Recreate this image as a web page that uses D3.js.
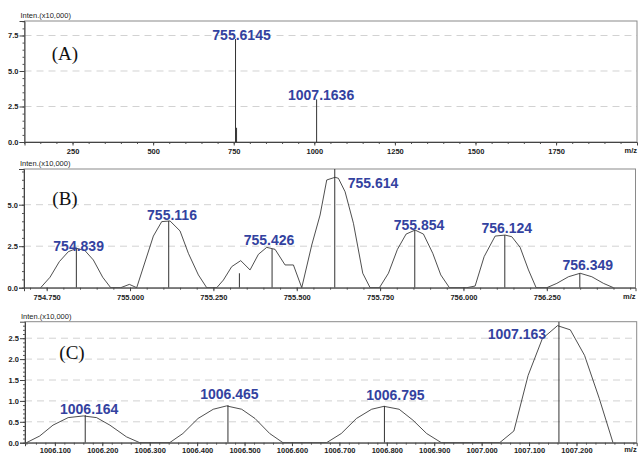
<!DOCTYPE html>
<html>
<head>
<meta charset="utf-8">
<script src="https://d3js.org/d3.v7.min.js"></script>
<style>
body {margin:0; background:#fff;}
svg text {font-family: "Liberation Sans", Arial, sans-serif;}
.tick text {font-size:7.5px; font-weight:bold; fill:#222;}
.lbl {font-size:14px; font-weight:bold; fill:#3342a0;}
.small {font-size:7.5px; fill:#222;}
.letter {font-family:"Liberation Serif", "Times New Roman", serif !important; font-size:19px; fill:#111;}
</style>
</head>
<body>
<svg width="639" height="455"></svg>
<script>
// ---- data ----
// panel A: full spectrum, sticks only
var aTicksX = [250, 500, 750, 1000, 1250, 1500, 1750];
var aTicksY = [0, 2.5, 5.0, 7.5];
var aSticks = [[755.6145, 7.25], [758.8, 1.0], [1007.1636, 3.0]];
var aLabels = ["755.6145", "", "1007.1636"];

// panel B: 755 cluster, profile + centroids
var bTicksX = [754.75, 755.0, 755.25, 755.5, 755.75, 756.0, 756.25];
var bTicksY = [0, 2.5, 5.0];
var bProfile = [
  [754.732,0],[754.760,0.63],[754.788,1.57],[754.815,2.17],[754.840,2.37],[754.865,2.23],[754.890,1.67],[754.918,0.63],[754.942,0],
  [754.972,0],[754.998,0.2],[755.020,0],
  [755.070,3.11],[755.095,3.98],[755.120,4.02],[755.150,3.42],[755.175,2.07],[755.205,0.77],[755.230,0],
  [755.260,0],[755.280,0.46],[755.305,1.27],[755.332,1.63],[755.360,1.07],[755.385,2.01],[755.410,2.43],[755.435,2.31],[755.465,1.37],[755.490,1.37],[755.515,0],
  [755.545,2.57],[755.570,4.38],[755.590,6.49],[755.615,6.65],[755.625,6.59],[755.645,5.78],[755.670,3.88],[755.698,0.87],[755.720,0],
  [755.748,0],[755.775,0.87],[755.802,2.31],[755.828,3.23],[755.855,3.47],[755.880,3.23],[755.908,2.07],[755.932,0.77],[755.958,0],
  [756.010,0],[756.035,0.1],[756.062,1.87],[756.095,3.11],[756.125,3.17],[756.145,3.07],[756.170,2.43],[756.195,1.07],[756.218,0],
  [756.250,0],[756.280,0.26],[756.315,0.66],[756.350,0.87],[756.385,0.66],[756.420,0.26],[756.450,0]
];
var bSticks = [[754.839,2.37],[755.116,4.02],[755.328,0.87],[755.426,2.33],[755.614,7.2],[755.854,3.47],[756.124,3.17],[756.349,0.87]];
var bLabels = ["754.839","755.116","","755.426","755.614","755.854","756.124","756.349"];

// panel C: 1006-1007 cluster
var cTicksX = [1006.1, 1006.2, 1006.3, 1006.4, 1006.5, 1006.6, 1006.7, 1006.8, 1006.9, 1007.0, 1007.1, 1007.2];
var cTicksY = [0, 0.5, 1.0, 1.5, 2.0, 2.5];
var cProfile = [
  [1006.040,0],[1006.068,0.16],[1006.096,0.42],[1006.128,0.60],[1006.160,0.64],[1006.188,0.60],[1006.216,0.42],[1006.251,0.14],[1006.279,0],
  [1006.342,0],[1006.370,0.22],[1006.402,0.58],[1006.434,0.80],[1006.462,0.88],[1006.494,0.80],[1006.522,0.58],[1006.553,0.22],[1006.581,0],
  [1006.673,0],[1006.704,0.22],[1006.736,0.58],[1006.768,0.80],[1006.794,0.87],[1006.826,0.80],[1006.855,0.54],[1006.884,0.22],[1006.915,0],
  [1007.038,0],[1007.068,0.28],[1007.098,1.61],[1007.128,2.49],[1007.160,2.80],[1007.187,2.70],[1007.217,2.09],[1007.248,1.06],[1007.277,0]
];
var cSticks = [[1006.164,0.66],[1006.465,0.90],[1006.795,0.88],[1007.163,2.9]];
var cLabels = ["1006.164","1006.465","1006.795","1007.163"];

// ---- drawing ----
var svg = d3.select("svg");

function panel(p) {
  var x = d3.scaleLinear().domain(p.xdom).range([p.left, p.right]);
  var y = d3.scaleLinear().domain([0, p.ymax]).range([p.bottom, p.top]);
  var g = svg.append("g");

  // grid
  g.selectAll(".grid").data(p.yticks.filter(function(v){ return v > 0; })).enter()
    .append("line")
    .attr("x1", p.left).attr("x2", p.right)
    .attr("y1", function(d){ return y(d); }).attr("y2", function(d){ return y(d); })
    .attr("stroke", "#d2d2d2").attr("stroke-dasharray", "7,5").attr("stroke-width", 1);

  // frame
  g.append("rect").attr("x", p.left).attr("y", p.top)
    .attr("width", p.right - p.left).attr("height", p.bottom - p.top)
    .attr("fill", "none").attr("stroke", "#8a8a8a");

  var clipId = "clip" + p.name;
  svg.append("clipPath").attr("id", clipId).append("rect")
    .attr("x", p.left).attr("y", p.top).attr("width", p.right - p.left).attr("height", p.bottom - p.top);
  var plot = g.append("g").attr("clip-path", "url(#" + clipId + ")");

  if (p.profile) {
    plot.append("path").datum(p.profile)
      .attr("d", d3.line().x(function(d){ return x(d[0]); }).y(function(d){ return y(d[1]); }))
      .attr("fill", "none").attr("stroke", "#222").attr("stroke-width", 0.8);
  }
  plot.selectAll(".stick").data(p.sticks).enter().append("line")
    .attr("x1", function(d){ return x(d[0]); }).attr("x2", function(d){ return x(d[0]); })
    .attr("y1", y(0)).attr("y2", function(d){ return y(d[1]); })
    .attr("stroke", "#333").attr("stroke-width", 1);

  // axes
  var minorX = d3.range(p.xdom[0], p.xdom[1], p.xminor).map(function(v){ return Math.round(v / p.xminor) * p.xminor; });
  g.append("g").attr("transform", "translate(0," + p.bottom + ")")
    .call(d3.axisBottom(x).tickValues(minorX).tickSize(2).tickFormat(""))
    .call(function(s){ s.select(".domain").remove(); s.selectAll("line").attr("stroke", "#555"); });
  g.append("g").attr("transform", "translate(0," + p.bottom + ")")
    .call(d3.axisBottom(x).tickValues(p.xticks).tickSize(3.5).tickPadding(p.xpad).tickFormat(d3.format(p.xfmt)))
    .call(function(s){ s.select(".domain").attr("stroke", "#444"); s.selectAll("line").attr("stroke", "#444"); });

  var minorY = d3.range(0, p.ymax, p.yminor);
  g.append("g").attr("transform", "translate(" + p.left + ",0)")
    .call(d3.axisLeft(y).tickValues(minorY).tickSize(2).tickFormat(""))
    .call(function(s){ s.select(".domain").remove(); s.selectAll("line").attr("stroke", "#555"); });
  g.append("g").attr("transform", "translate(" + p.left + ",0)")
    .call(d3.axisLeft(y).tickValues(p.yticks).tickSize(5).tickPadding(1).tickFormat(d3.format(".1f")))
    .call(function(s){ s.select(".domain").attr("stroke", "#444"); s.selectAll("line").attr("stroke", "#444"); });

  svg.append("text").attr("class", "small").attr("x", p.left - 4).attr("y", p.top - 3).text("Inten.(x10,000)");
  svg.append("text").attr("class", "small").attr("font-weight", "bold").attr("text-anchor", "end")
    .attr("x", p.right).attr("y", p.bottom + p.mzdy).text("m/z");
  svg.append("text").attr("class", "letter").attr("text-anchor", "middle")
    .attr("x", p.letter[0]).attr("y", p.letter[1]).text(p.letterText);

  // peak labels
  p.sticks.forEach(function(d, i) {
    var t = p.labels[i];
    if (!t) return;
    var off = p.offsets[i];
    var sx = x(d[0]);
    var sy = Math.max(y(d[1]), p.top);
    svg.append("text").attr("class", "lbl")
      .attr("text-anchor", off[2] || "middle")
      .attr("x", sx + off[0]).attr("y", (off[3] ? off[1] : sy + off[1]))
      .text(t);
  });
}

panel({
  name: "A", left: 24.5, right: 637, top: 21, bottom: 142,
  xdom: [101, 2001], ymax: 8.52, xticks: aTicksX, yticks: aTicksY, xfmt: "d", xpad: 3, mzdy: 11,
  xminor: 50, yminor: 0.5, sticks: aSticks, labels: aLabels,
  offsets: [[6, 1], [0, 0], [4.5, 1]],
  letter: [65, 60], letterText: "(A)"
});

panel({
  name: "B", left: 24, right: 635.5, top: 169, bottom: 287.7,
  xdom: [754.682, 756.516], ymax: 7.15, xticks: bTicksX, yticks: bTicksY, xfmt: ".3f", xpad: 3, mzdy: 11,
  xminor: 0.05, yminor: 0.5, profile: bProfile, sticks: bSticks, labels: bLabels,
  offsets: [[2.3, 3], [3.3, -1], [0, 0], [-3, -4], [13, 188, "start", true], [4.3, 0], [2, -2], [8, -3]],
  letter: [65, 205], letterText: "(B)"
});

panel({
  name: "C", left: 25, right: 636.7, top: 321.7, bottom: 442.7,
  xdom: [1006.037, 1007.327], ymax: 2.895, xticks: cTicksX, yticks: cTicksY, xfmt: ".3f", xpad: 1, mzdy: 9,
  xminor: 0.02, yminor: 0.1, profile: cProfile, sticks: cSticks, labels: cLabels,
  offsets: [[4, -1], [1.5, -6], [11, -5.5], [-42, 339, "middle", true]],
  letter: [72, 359], letterText: "(C)"
});
</script>
</body>
</html>
